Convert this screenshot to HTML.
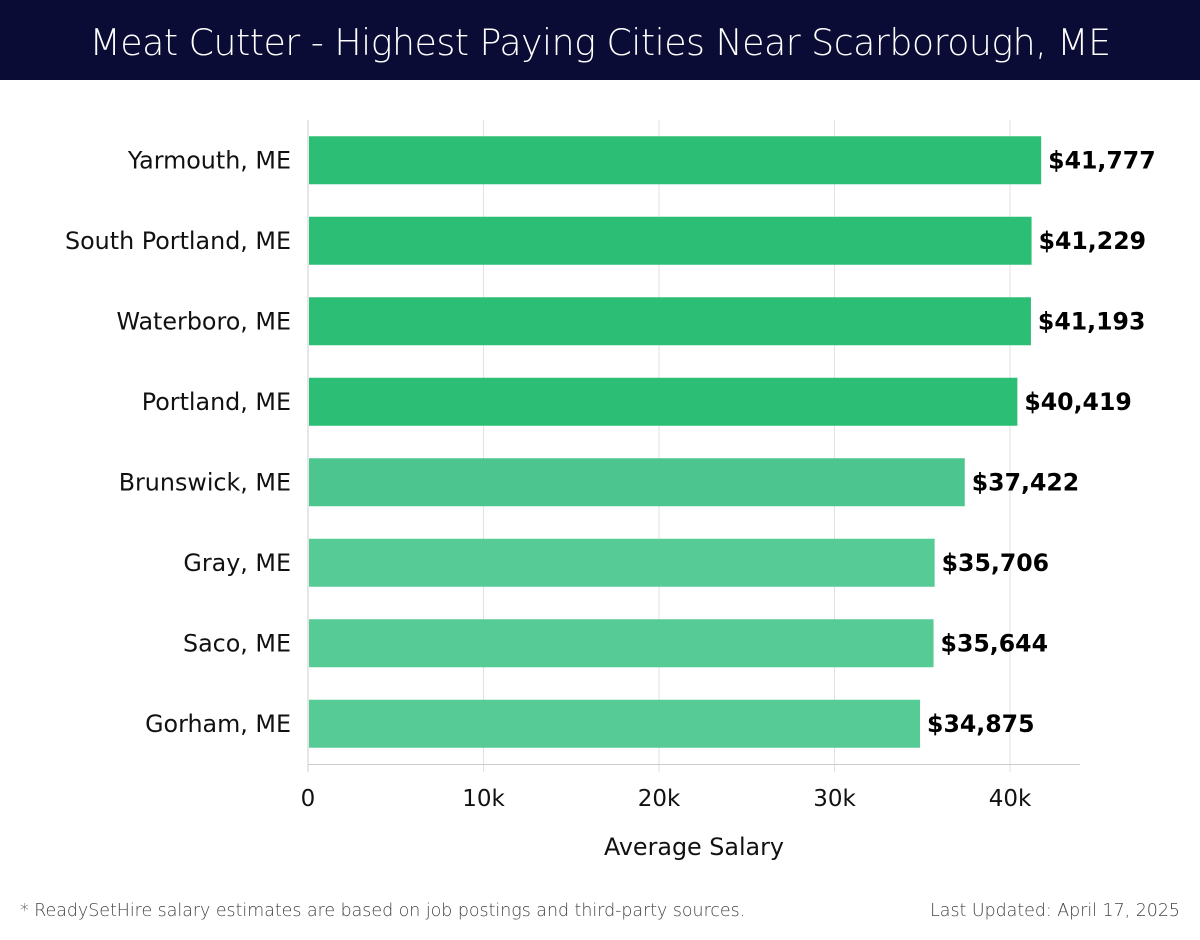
<!DOCTYPE html>
<html><head><meta charset="utf-8"><style>
body{margin:0;width:1200px;height:940px;background:#fff;font-family:"DejaVu Sans","Liberation Sans",sans-serif;overflow:hidden;position:relative}
#hdr{position:absolute;left:0;top:0;width:1200px;height:80px;background:#0b0c35;color:#fff;font-size:36.3px;text-align:center;line-height:86px;font-family:"DejaVu Sans","Liberation Sans",sans-serif;font-weight:300;letter-spacing:-0.5px}
.foot{position:absolute;top:901px;font-size:17.4px;color:#444;font-family:"DejaVu Sans","Liberation Sans",sans-serif;font-weight:300}
</style></head><body>
<div id="hdr">Meat Cutter - Highest Paying Cities Near Scarborough, ME</div>
<svg id="chart" width="1200" height="940" style="position:absolute;left:0;top:0;font-family:'DejaVu Sans','Liberation Sans',sans-serif"></svg>
<div class="foot" style="left:20px">* ReadySetHire salary estimates are based on job postings and third-party sources.</div>
<div class="foot" style="right:20px">Last Updated: April 17, 2025</div>
<script>
const categories=["Yarmouth, ME","South Portland, ME","Waterboro, ME","Portland, ME","Brunswick, ME","Gray, ME","Saco, ME","Gorham, ME"];
const values=[41777,41229,41193,40419,37422,35706,35644,34875];
const labels=["$41,777","$41,229","$41,193","$40,419","$37,422","$35,706","$35,644","$34,875"];
const colors=["#2dbe76","#2dbe76","#2dbe76","#2dbe76","#4cc68e","#57cb95","#57cb95","#57cb95"];
const ticks=[0,10000,20000,30000,40000];
const tickLabels=["0","10k","20k","30k","40k"];
const NS="http://www.w3.org/2000/svg",svg=document.getElementById('chart');
const x0=308,pxPer=(1010-308)/40000,top0=120,band=80.5;
const X=v=>x0+v*pxPer, Y=i=>top0+i*band;
function mk(t,a,txt){const e=document.createElementNS(NS,t);for(const k in a)e.setAttribute(k,a[k]);if(txt!=null)e.textContent=txt;svg.appendChild(e);return e;}
ticks.forEach((t,i)=>{
 const g=mk('line',{x1:X(t),x2:X(t),y1:top0,y2:772,stroke:i?'#e2e2e2':'#ccc','stroke-width':1});
 
 
 const l=mk('text',{x:X(t),y:806,'font-size':23,'text-anchor':'middle',fill:'#111'},tickLabels[i]);
 
 
});
const ax=mk('line',{x1:x0,x2:1080,y1:764.5,y2:764.5,stroke:'#ccc'});


categories.forEach((c,i)=>{
 const yc=Y(i)+band/2;
 const r=mk('rect',{x:x0+1,y:yc-24,width:X(values[i])-x0-1,height:48,fill:colors[i]});
 
 
 const t=mk('text',{x:291,y:yc+8,'font-size':23.8,'text-anchor':'end',fill:'#111'},c);
 
 
 const v=mk('text',{x:X(values[i])+7,y:yc+8,'font-size':23.6,'font-weight':'bold',fill:'#000'},labels[i]);
 
 
});
const at=mk('text',{x:694,y:855,'font-size':23.8,'text-anchor':'middle',fill:'#111'},'Average Salary');


</script>
</body></html>
